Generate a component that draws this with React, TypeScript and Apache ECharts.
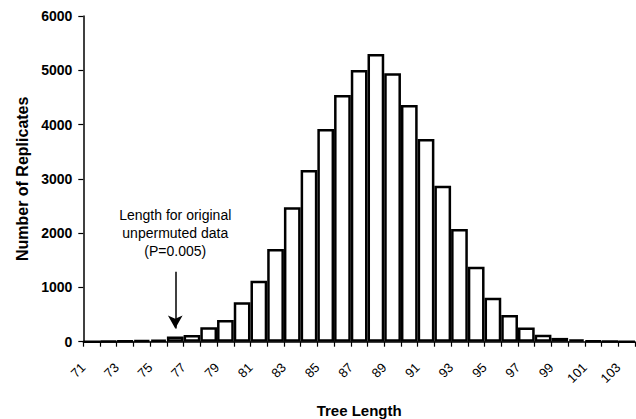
import React, { useEffect, useRef } from "react";
import * as echarts from "echarts";

const categories: string[] = [
  "71","72","73","74","75","76","77","78","79","80","81","82","83","84","85","86","87",
  "88","89","90","91","92","93","94","95","96","97","98","99","100","101","102","103",
];
const replicates: number[] = [
  0, 8, 12, 25, 35, 95, 125, 265, 400, 725, 1125, 1710, 2475, 3165, 3920, 4545, 5005,
  5300, 4945, 4360, 3735, 2875, 2075, 1380, 810, 490, 260, 130, 70, 40, 15, 5, 2,
];
const yTicks = { min: 0, max: 6000, interval: 1000 };
const annotationLines: string[] = ["Length for original", "unpermuted data", "(P=0.005)"];
const annotationCategory = "76";
const arrowFrom = 1290;
const arrowTo = 245;
const annotationCenterValue = 2003;

const FONT = 'Arial, "Liberation Sans", sans-serif';

export default function App() {
  const ref = useRef<HTMLDivElement>(null);
  useEffect(() => {
    if (!ref.current) return;
    const chart = echarts.init(ref.current, undefined, { renderer: "svg" });
    chart.setOption({
      animation: false,
      backgroundColor: "#ffffff",
      grid: { left: 83.3, right: 1, top: 16, bottom: 77.3, containLabel: false, outerBoundsMode: "none" },
      xAxis: {
        type: "category",
        data: categories,
        boundaryGap: true,
        name: "Tree Length",
        nameLocation: "middle",
        nameGap: 61,
        nameTextStyle: { fontFamily: FONT, fontWeight: "bold", fontSize: 15, color: "#000" },
        axisLine: { lineStyle: { color: "#000", width: 1.5 } },
        axisTick: { show: true, interval: 0, length: 5, alignWithLabel: false, lineStyle: { color: "#000", width: 1.2 } },
        axisLabel: {
          interval: 1,
          rotate: 45,
          margin: 15,
          padding: [0, 12, 0, 0],
          fontFamily: FONT,
          fontSize: 13,
          color: "#000",
        },
        splitLine: { show: false },
      },
      yAxis: {
        type: "value",
        min: yTicks.min,
        max: yTicks.max,
        interval: yTicks.interval,
        name: "Number of Replicates",
        nameLocation: "middle",
        nameGap: 52,
        nameTextStyle: { fontFamily: FONT, fontWeight: "bold", fontSize: 16, color: "#000" },
        axisLine: { show: true, lineStyle: { color: "#000", width: 1.5 } },
        axisTick: { show: true, length: 5, lineStyle: { color: "#000", width: 1.2 } },
        axisLabel: {
          margin: 11,
          fontFamily: FONT,
          fontWeight: "bold",
          fontSize: 14,
          color: "#000",
          formatter: (v: number) => String(v),
        },
        splitLine: { show: false },
      },
      series: [
        {
          type: "bar",
          data: replicates,
          barCategoryGap: 0,
          barGap: 0,
          itemStyle: { color: "#ffffff", borderColor: "#000", borderWidth: 2.5 },
          markLine: {
            silent: true,
            symbol: ["none", "arrow"],
            symbolSize: [11, 13],
            label: { show: false },
            lineStyle: { color: "#000", width: 1.5, type: "solid" },
            data: [
              [
                { coord: [annotationCategory, arrowFrom] },
                { coord: [annotationCategory, arrowTo] },
              ],
            ],
          },
        },
      ],
    });
    const p = chart.convertToPixel({ xAxisIndex: 0, yAxisIndex: 0 }, [annotationCategory, annotationCenterValue]) as number[];
    chart.setOption({
      graphic: [
        {
          type: "text",
          x: p[0],
          y: p[1],
          style: {
            text: annotationLines.join("\n"),
            fontFamily: FONT,
            fontSize: 14,
            lineHeight: 18,
            fill: "#000",
            align: "center",
            verticalAlign: "middle",
          },
        },
      ],
    });
    return () => chart.dispose();
  }, []);
  return (
    <div
      ref={ref}
      style={{ position: "fixed", left: 0, top: 0, width: 636, height: 419, background: "#fff" }}
    />
  );
}
